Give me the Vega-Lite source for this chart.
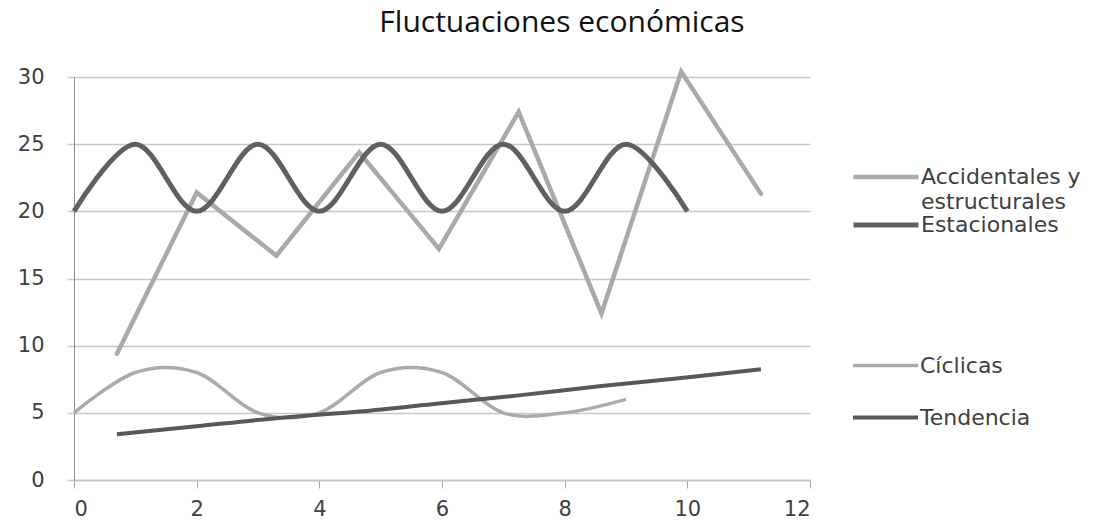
{
  "$schema": "https://vega.github.io/schema/vega-lite/v6.json",
  "width": 736,
  "height": 403,
  "padding": {"left": 17, "top": 7, "right": 5, "bottom": 2},
  "background": "white",
  "title": {
    "text": "Fluctuaciones económicas",
    "font": "Open Sans",
    "fontSize": 30,
    "fontWeight": "normal",
    "color": "#111111",
    "anchor": "middle",
    "dx": 120,
    "offset": 25
  },
  "config": {
    "view": {"stroke": null},
    "axis": {"labelFont": "DejaVu Sans", "labelFontSize": 21, "labelColor": "#404040", "title": null},
    "style": {"guide-label": {"lineHeight": 25}}
  },
  "data": {
    "values": [
      {"series": "Accidentales y estructurales", "x": 0.7, "y": 9.4},
      {"series": "Accidentales y estructurales", "x": 2.0, "y": 21.4},
      {"series": "Accidentales y estructurales", "x": 3.3, "y": 16.7},
      {"series": "Accidentales y estructurales", "x": 4.65, "y": 24.4},
      {"series": "Accidentales y estructurales", "x": 5.95, "y": 17.2},
      {"series": "Accidentales y estructurales", "x": 7.25, "y": 27.4},
      {"series": "Accidentales y estructurales", "x": 8.6, "y": 12.4},
      {"series": "Accidentales y estructurales", "x": 9.9, "y": 30.4},
      {"series": "Accidentales y estructurales", "x": 11.2, "y": 21.3},
      {"series": "Estacionales", "x": 0, "y": 20},
      {"series": "Estacionales", "x": 1, "y": 25},
      {"series": "Estacionales", "x": 2, "y": 20},
      {"series": "Estacionales", "x": 3, "y": 25},
      {"series": "Estacionales", "x": 4, "y": 20},
      {"series": "Estacionales", "x": 5, "y": 25},
      {"series": "Estacionales", "x": 6, "y": 20},
      {"series": "Estacionales", "x": 7, "y": 25},
      {"series": "Estacionales", "x": 8, "y": 20},
      {"series": "Estacionales", "x": 9, "y": 25},
      {"series": "Estacionales", "x": 10, "y": 20},
      {"series": "Cíclicas", "x": 0, "y": 5},
      {"series": "Cíclicas", "x": 1, "y": 8},
      {"series": "Cíclicas", "x": 2, "y": 8},
      {"series": "Cíclicas", "x": 3, "y": 5},
      {"series": "Cíclicas", "x": 4, "y": 5},
      {"series": "Cíclicas", "x": 5, "y": 8},
      {"series": "Cíclicas", "x": 6, "y": 8},
      {"series": "Cíclicas", "x": 7, "y": 5},
      {"series": "Cíclicas", "x": 8, "y": 5},
      {"series": "Cíclicas", "x": 9, "y": 6},
      {"series": "Tendencia", "x": 0.7, "y": 3.4},
      {"series": "Tendencia", "x": 2.0, "y": 4.0},
      {"series": "Tendencia", "x": 3.3, "y": 4.6},
      {"series": "Tendencia", "x": 4.65, "y": 5.1},
      {"series": "Tendencia", "x": 5.95, "y": 5.7},
      {"series": "Tendencia", "x": 7.25, "y": 6.3},
      {"series": "Tendencia", "x": 8.6, "y": 7.0},
      {"series": "Tendencia", "x": 9.9, "y": 7.6},
      {"series": "Tendencia", "x": 11.2, "y": 8.25}
    ]
  },
  "encoding": {
    "x": {
      "field": "x", "type": "quantitative",
      "scale": {"domain": [0, 12], "nice": false, "zero": false},
      "axis": {"values": [0, 2, 4, 6, 8, 10, 12], "grid": false, "domainColor": "#c4c4c4", "domainWidth": 1.5, "tickColor": "#a8a8a8", "tickSize": 8, "tickWidth": 1, "labelPadding": 10, "zindex": 0}
    },
    "y": {
      "field": "y", "type": "quantitative",
      "scale": {"domain": [0, 30], "nice": false},
      "axis": {"values": [0, 5, 10, 15, 20, 25, 30], "grid": true, "gridColor": "#c8c8c8", "gridWidth": 1.5, "domainColor": "#8e8e8e", "domainWidth": 1, "tickColor": "#c8c8c8", "tickSize": 7, "tickWidth": 1.5, "labelPadding": 23, "zindex": 0}
    }
  },
  "layer": [
    {
      "transform": [{"filter": "datum.series === 'Accidentales y estructurales'"}],
      "mark": {"type": "line", "interpolate": "linear", "strokeWidth": 4.5, "strokeCap": "round", "strokeJoin": "miter"},
      "encoding": {
        "color": {
          "field": "series", "type": "nominal",
          "scale": {"domain": ["Accidentales y estructurales"], "range": ["#a9a9a9"]},
          "legend": {"orient": "none", "legendX": 777, "legendY": 65, "title": null, "padding": 0, "symbolType": "stroke", "symbolSize": 4225, "symbolStrokeWidth": 4.5, "labelFont": "DejaVu Sans", "labelFontSize": 22, "labelColor": "#404040", "labelOffset": 0, "labelLimit": 400, "labelExpr": "['Accidentales y', 'estructurales']"}
        }
      }
    },
    {
      "transform": [{"filter": "datum.series === 'Estacionales'"}],
      "mark": {"type": "line", "interpolate": "cardinal", "strokeWidth": 5, "strokeCap": "butt"},
      "encoding": {
        "color": {
          "field": "series", "type": "nominal",
          "scale": {"domain": ["Estacionales"], "range": ["#606060"]},
          "legend": {"orient": "none", "legendX": 777, "legendY": 113, "title": null, "padding": 0, "symbolType": "stroke", "symbolSize": 4225, "symbolStrokeWidth": 5, "labelFont": "DejaVu Sans", "labelFontSize": 22, "labelColor": "#404040", "labelOffset": 0, "labelLimit": 400}
        }
      }
    },
    {
      "transform": [{"filter": "datum.series === 'Cíclicas'"}],
      "mark": {"type": "line", "interpolate": "cardinal", "strokeWidth": 3.5},
      "encoding": {
        "color": {
          "field": "series", "type": "nominal",
          "scale": {"domain": ["Cíclicas"], "range": ["#ababab"]},
          "legend": {"orient": "none", "legendX": 777, "legendY": 254, "title": null, "padding": 0, "symbolType": "stroke", "symbolSize": 4225, "symbolStrokeWidth": 3.5, "labelFont": "DejaVu Sans", "labelFontSize": 22, "labelColor": "#404040", "labelOffset": 0, "labelLimit": 400}
        }
      }
    },
    {
      "transform": [{"filter": "datum.series === 'Tendencia'"}],
      "mark": {"type": "line", "interpolate": "cardinal", "strokeWidth": 4},
      "encoding": {
        "color": {
          "field": "series", "type": "nominal",
          "scale": {"domain": ["Tendencia"], "range": ["#585858"]},
          "legend": {"orient": "none", "legendX": 777, "legendY": 306, "title": null, "padding": 0, "symbolType": "stroke", "symbolSize": 4225, "symbolStrokeWidth": 4, "labelFont": "DejaVu Sans", "labelFontSize": 22, "labelColor": "#404040", "labelOffset": 0, "labelLimit": 400}
        }
      }
    }
  ],
  "resolve": {"scale": {"color": "independent"}, "legend": {"color": "independent"}}
}
